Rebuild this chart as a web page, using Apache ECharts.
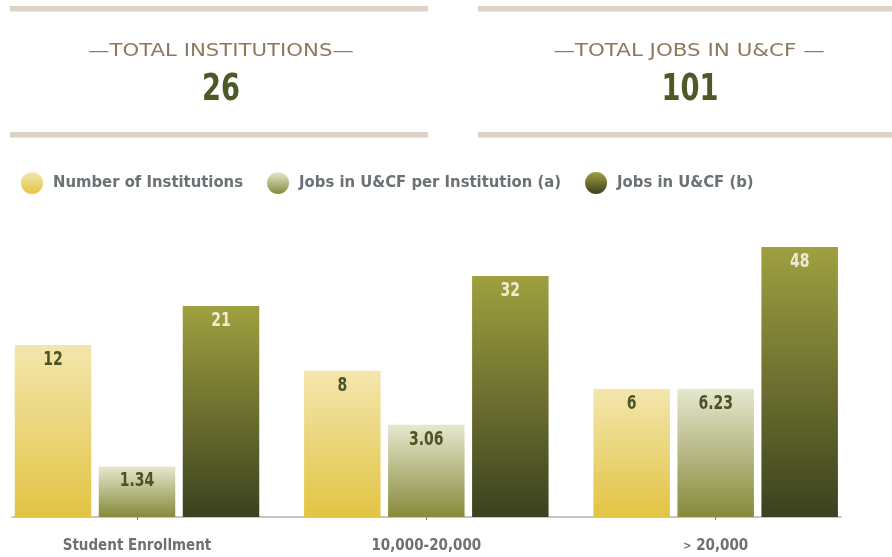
<!DOCTYPE html>
<html><head><meta charset="utf-8">
<script src="https://cdn.jsdelivr.net/npm/echarts@6/dist/echarts.min.js"></script>
<style>html,body{margin:0;padding:0;background:#fff}#c{width:892px;height:557px}</style>
</head><body><div id="c"></div>
<script>
// ---- data ----
const categories = ['Student Enrollment', '10,000-20,000', '> 20,000'];
const seriesNames = ['Number of Institutions', 'Jobs in U&CF per Institution (a)', 'Jobs in U&CF (b)'];
const institutions = [12, 8, 6];
const jobsPerInstitution = [1.34, 3.06, 6.23];
const jobs = [21, 32, 48];
const summaryLabels = ['\u2014TOTAL INSTITUTIONS\u2014', '\u2014TOTAL JOBS IN U&CF \u2014'];
const summaryValues = [26, 101];

// ---- style ----
const COND = "'DejaVu Sans Condensed',sans-serif";
const grad = (a, b) => new echarts.graphic.LinearGradient(0, 0, 0, 1, [{offset: 0, color: a}, {offset: 1, color: b}]);
const fills = [grad('#f3e6ad', '#e2c443'), grad('#e6e7cf', '#868a39'), grad('#9fa03f', '#3b411f')];
const labelColors = ['#4c5426', '#4c5426', '#efe9d2'];
const axisRanges = [[0.8, 76.8], [0.494, 152.4], [1.0924, 63.56]];

function makeRender(idx) {
  return function (params, api) {
    const cat = api.value(0), val = api.value(1);
    const pt = api.coord([cat, val]);
    const cs = params.coordSys;
    const base = cs.y + cs.height;
    const w = 76.5, step = 84;
    const cx = pt[0] + (idx - 1) * step;
    return {
      type: 'group',
      children: [
        {type: 'rect', shape: {x: cx - w / 2, y: pt[1], width: w, height: base - pt[1]}, style: {fill: fills[idx]}},
        {type: 'text', x: cx, y: pt[1] + 15, scaleX: 0.82,
          style: {text: String(val), x: 0, y: 0, align: 'center', verticalAlign: 'middle',
          fill: labelColors[idx], fontSize: 19, fontWeight: 'bold', fontFamily: COND}}
      ]
    };
  };
}

const seriesData = [institutions, jobsPerInstitution, jobs];
const chart = echarts.init(document.getElementById('c'), null, {renderer: 'canvas'});

const bandColor = '#dcd3c6';
const titleStyle = {align: 'center', verticalAlign: 'middle', fill: '#8d7a5c', fontSize: 18, fontFamily: "'DejaVu Sans',sans-serif"};
const valueStyle = {align: 'center', verticalAlign: 'middle', fill: '#4e5a25', fontSize: 37, fontWeight: 'bold', fontFamily: COND};
const graphic = [
  {type: 'rect', shape: {x: 10, y: 6, width: 418, height: 5.5}, style: {fill: bandColor}},
  {type: 'rect', shape: {x: 10, y: 132, width: 418, height: 5.5}, style: {fill: bandColor}},
  {type: 'rect', shape: {x: 478, y: 6, width: 414, height: 5.5}, style: {fill: bandColor}},
  {type: 'rect', shape: {x: 478, y: 132, width: 414, height: 5.5}, style: {fill: bandColor}},
  {type: 'text', x: 221, y: 51, scaleX: 1.18, style: Object.assign({text: summaryLabels[0]}, titleStyle)},
  {type: 'text', x: 221, y: 90, scaleX: 0.82, style: Object.assign({text: String(summaryValues[0])}, valueStyle)},
  {type: 'text', x: 689, y: 51, scaleX: 1.19, style: Object.assign({text: summaryLabels[1]}, titleStyle)},
  {type: 'text', x: 690, y: 90, scaleX: 0.82, style: Object.assign({text: String(summaryValues[1])}, valueStyle)}
];

chart.setOption({
  animation: false,
  graphic: graphic,
  legend: {
    data: seriesNames, left: 21, top: 172, padding: 0, itemWidth: 22, itemHeight: 22, itemGap: 24, icon: 'circle',
    textStyle: {fontSize: 16.5, fontWeight: 'bold', fontFamily: COND, color: '#6b7174', padding: [8, 0, 0, 5]}
  },
  grid: [
    {left: 137, right: 176.33, top: 227, bottom: 40},
    {left: 12, right: 51, top: 227, bottom: 40}
  ],
  xAxis: [
    {gridIndex: 0, type: 'category', data: categories, boundaryGap: false,
      axisLine: {show: false},
      axisTick: {show: true, length: 3, lineStyle: {color: '#777'}},
      axisLabel: {margin: 22, fontSize: 15, fontWeight: 'bold', fontFamily: COND, color: '#6b7174',
        formatter: v => v.charAt(0) === '>' ? '{s|>}' + v.slice(1) : v,
        rich: {s: {fontSize: 11, fontWeight: 'bold', fontFamily: COND, color: '#6b7174'}}}},
    {gridIndex: 1, type: 'category', data: categories,
      axisLine: {lineStyle: {color: '#bbb3a4', width: 1.5}}, axisTick: {show: false}, axisLabel: {show: false}}
  ],
  yAxis: [
    {gridIndex: 0, type: 'log', min: axisRanges[0][0], max: axisRanges[0][1], show: false},
    {gridIndex: 0, type: 'log', min: axisRanges[1][0], max: axisRanges[1][1], show: false},
    {gridIndex: 0, type: 'log', min: axisRanges[2][0], max: axisRanges[2][1], show: false},
    {gridIndex: 1, type: 'value', show: false}
  ],
  series: seriesData.map((arr, i) => ({
    name: seriesNames[i], type: 'custom', xAxisIndex: 0, yAxisIndex: i,
    itemStyle: {color: fills[i]},
    renderItem: makeRender(i),
    encode: {x: 0, y: 1},
    data: arr.map((v, j) => [j, v])
  }))
});
</script></body></html>
